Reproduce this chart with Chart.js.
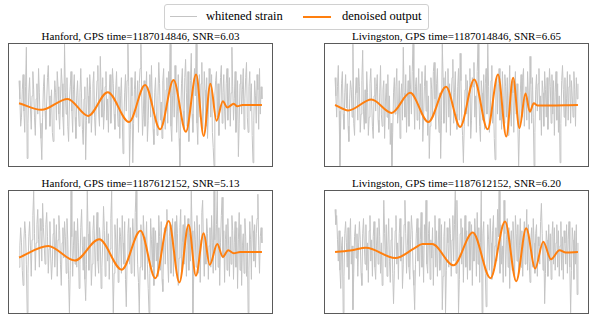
<!DOCTYPE html>
<html>
<head>
<meta charset="utf-8">
<script src="https://cdn.jsdelivr.net/npm/chart.js@4/dist/chart.umd.min.js"></script>
<style>
  html, body { margin: 0; padding: 0; background: #fff; }
  body { width: 594px; height: 321px; position: relative; overflow: hidden; font-family: "Liberation Serif", "DejaVu Serif", serif; }
  canvas { position: absolute; }
  .ttl { position: absolute; font-size: 11px; line-height: 12px; white-space: nowrap; text-align: center; color: #000; }
  #legend { position: absolute; left: 164px; top: 4px; width: 263px; height: 24px; border: 1px solid #d0d0d0; border-radius: 3px; background: #fff; font-size: 12.5px; }
  .lg { position: absolute; top: 4px; line-height: 15px; white-space: nowrap; }
  .sw { position: absolute; top: 11px; }
</style>
</head>
<body>
<div id="legend">
  <div class="sw" style="left:5px;width:27px;height:1px;background:#c4c4c4;"></div>
  <div class="lg" style="left:41px;">whitened strain</div>
  <div class="sw" style="left:138px;width:28px;height:2px;background:#ff7f0e;"></div>
  <div class="lg" style="left:177px;">denoised output</div>
</div>
<script>
// ---- data ----
const panelTitles = [
  "Hanford, GPS time=1187014846, SNR=6.03",
  "Livingston, GPS time=1187014846, SNR=6.65",
  "Hanford, GPS time=1187612152, SNR=5.13",
  "Livingston, GPS time=1187612152, SNR=6.20"
];
const legendLabels = ["whitened strain", "denoised output"];

// whitened strain (noisy), evenly spaced over the window, in % of half range
const tlStrain = [40,10,-35,-20,25,50,-10,-45,30,95, -88,-30,20,45,-5,-40,15,55,25,-20,
  -50,10,35,-15,60,20,-30,-55,-90,-20, 30,50,-10,-40,5,45,65,15,-35,-10,
  25,-45,-60,0,40,20,-25,55,30,-15, -40,10,60,35,-20,-50,100,20,-15,45,
  -35,-60,5,30,55,-10,-45,25,50,-20, -55,15,40,-5,-35,20,60,10,-40,-65,
  10,30,-90,-25,45,15,-30,50,25,-45, -10,35,55,-20,-50,5,40,65,-15,-35,
  80,25,-20,45,-40,-10,30,55,-25,10, -45,20,50,-30,0,60,35,-15,-40,25,
  55,-5,-35,30,-55,15,45,-20,-80,-30, 20,50,-10,40,100,30,-100,-40,45,15,
  -95,-30,25,55,-20,10,40,-45,35,60, 100,20,-50,-15,40,-35,15,55,-60,-25,
  30,50,-20,65,10,-40,-65,20,45,-10, -50,15,70,35,-25,5,-55,40,60,-15,
  -40,25,45,-30,55,20,100,-35,-60,15, 40,-20,65,30,-45,-10,50,-55,-100,-20,
  35,60,-10,-40,45,75,20,-35,55,-60, -25,40,85,-15,-45,30,60,15,100,-30,
  -65,20,50,-20,35,70,-40,-10,55,25, -35,45,-55,-15,60,30,-20,50,-45,-70,
  -100,15,40,55,-20,35,-50,10,45,65, -30,20,50,-10,-40,35,60,-25,15,45,
  -35,20,95,30,-25,10,55,-45,-20,40, -85,-30,35,50,-15,25,60,-40,10,45,
  70,-20,-45,30,55,-10,35,-50,-95,-25, 40,15,-30,50,25,-40,60,-15,30,10];
const trStrain = [45,15,-20,30,65,-10,-100,-25,35,55, -15,-40,20,50,-5,35,-35,-60,10,40,
  25,-20,100,-30,-50,15,45,20,-25,60, 30,-45,-15,40,90,-10,-40,25,-30,55,
  20,-50,-20,35,60,10,-35,-55,15,45, -10,30,50,-25,-45,20,65,-15,-35,25,
  40,-55,5,35,-20,50,-40,15,-65,-30, -100,-45,20,45,-15,30,60,-30,-10,40,
  -55,15,35,-25,95,20,-20,50,-45,10, 40,-35,65,25,-15,55,100,15,-40,30,
  45,-25,20,60,-40,35,-15,55,-60,-20, 30,65,-10,40,-50,15,-88,-35,45,25,
  -20,55,70,10,-40,35,60,-15,-45,20, -88,-25,100,45,-30,15,55,-45,25,60,
  -20,35,-50,10,45,75,-30,20,55,-15, -40,30,60,-25,85,40,-20,-50,-95,-35,
  25,50,-15,40,-35,20,60,-55,-25,45, 30,70,-20,15,-45,55,100,20,-35,-60,
  40,20,-25,50,-40,35,60,-15,100,30, -45,-20,40,65,-30,10,-55,-90,25,45,
  -15,35,60,-25,20,-40,55,15,-30,50, 30,-20,45,-50,15,65,-10,-35,40,20,
  -45,25,55,-15,35,-30,-100,-40,20,50, -20,45,60,-35,10,30,-25,55,15,-40,
  80,35,-30,45,-20,-100,-45,25,50,-10, 35,60,-25,15,-50,40,20,-35,55,25,
  -20,45,-40,10,60,30,-30,50,-15,40, -50,20,55,-25,35,-45,15,-95,-30,40,
  65,25,-20,45,-35,10,55,-25,30,50, -30,40,15,-20,55,25,-35,45,10,35];
const blStrain = [-25,10,40,15,-30,-55,20,50,30,-20, -100,-35,25,50,10,-40,20,60,100,30,
  -30,15,45,70,20,-25,55,35,-15,80, 40,10,-20,45,65,25,-35,5,50,-10,
  -45,-15,30,55,-25,10,45,-40,20,60, 35,-20,-55,15,40,-10,50,25,-35,55,
  20,-45,-100,-30,100,25,-40,10,50,-20, 35,-25,55,15,-60,-20,40,70,10,-30,
  25,-45,-80,-20,100,30,-30,50,15,-55, -20,35,60,10,-40,25,65,-15,-35,40,
  20,-60,-25,15,75,35,-40,10,50,-15, 30,-45,5,55,100,-20,-100,-35,45,20,
  -25,55,-50,-10,40,25,-35,60,15,-20, 50,-45,-90,-15,30,55,-20,40,-35,10,
  55,20,-40,65,100,30,-20,-50,-100,-25, 45,10,-30,60,25,-45,15,50,-20,-60,
  -100,-35,55,20,-25,40,-55,10,35,-15, 15,-40,60,25,-30,50,-45,-65,20,40,
  -20,35,70,-15,-50,25,45,-35,15,55, -40,20,50,-25,60,30,-55,-10,40,70,
  -35,15,45,-20,60,25,-40,10,55,-30, 30,-15,100,35,-100,-40,50,20,-25,60,
  15,-35,45,-50,20,65,85,10,-40,25, -20,55,30,-45,10,40,-25,60,15,-35,
  100,20,-30,45,100,-25,40,-55,15,60, 90,-10,35,-50,20,45,-30,55,10,-40,
  25,-20,60,35,-45,15,50,-25,40,-60, 20,65,-30,45,-55,10,30,-35,55,25,
  -40,15,-100,-30,50,20,-45,60,35,-15, 45,-25,30,55,95,10,-35,25,40,15];
const brStrain = [70,45,60,20,-15,35,-30,-60,10,25, -100,-40,30,50,15,-25,40,-45,20,55,
  -20,10,-95,-35,25,45,-10,30,-40,15, 50,20,-35,-55,30,55,10,-20,45,-30,
  15,-50,35,60,-15,20,-40,25,50,-25, -45,10,40,-20,55,25,-35,15,-55,-10,
  85,30,-25,45,-40,10,55,-15,-50,20, 40,-35,-85,-30,35,60,-20,15,-45,30,
  55,-15,25,-60,-20,45,85,30,-35,10, 50,-25,-45,20,60,35,-30,-55,-95,-20,
  30,55,-15,40,-40,20,65,-25,10,-50, 45,15,85,-20,-35,30,50,-45,20,-10,
  40,-55,15,60,-25,35,-40,10,55,-30, -10,45,-95,-40,25,50,-100,-30,40,15,
  -25,55,30,-40,20,60,-15,45,100,-35, 85,25,-100,-45,30,55,-20,40,-50,15,
  60,-25,35,-45,20,50,-30,10,45,-55, 30,-15,55,25,-40,65,-20,40,-50,15,
  100,-100,30,50,-20,-35,-90,-25,45,20, -30,55,15,-45,35,60,-25,10,40,-15,
  70,25,100,-35,45,-20,10,-50,85,30, -40,20,55,-25,40,-60,15,35,-30,50,
  20,-45,60,30,-15,45,-35,10,55,-25, 35,-40,15,50,-20,30,70,-30,45,-15,
  -50,20,40,-25,55,15,-35,30,45,-40, 25,10,-20,50,80,30,-30,15,-85,-35,
  35,20,-40,45,-15,30,-45,25,50,-20, 40,-30,15,45,-25,35,-40,10,50,-30,
  25,-45,35,15,-20,45,-35,20,50,-25, -100,-30,40,20,-45,35,-20,45,-70,15];

// denoised output: times (fraction of window) and values at turning points
const tlDenoisedT = [0,0.092,0.200,0.285,0.365,0.453,0.519,0.581,0.636,0.687,0.729,0.760,0.788,0.813,0.839,0.857,0.884,0.898,0.92,1.0];
const tlDenoisedV = [3,-8,10,-18,21,-28,33,-40,41,-44,50,-51,35,-26,6,-4,2,-2,0,0];
const trDenoisedT = [0,0.054,0.150,0.233,0.309,0.384,0.457,0.515,0.573,0.628,0.671,0.705,0.733,0.759,0.784,0.802,0.818,0.835,1.0];
const trDenoisedV = [0,-9,9,-13,20,-28,30,-36,42,-40,50,-52,45,-38,19,-11,3,-1,0];
const blDenoisedT = [0,0.12,0.23,0.33,0.423,0.50,0.561,0.616,0.660,0.698,0.728,0.760,0.785,0.816,0.839,0.861,0.884,0.91,1.0];
const blDenoisedV = [-9,10,-14,21,-29,35,-43,51,-50,45,-39,31,-21,13,-8,3,-2,0,0];
const brDenoisedT = [0,0.071,0.127,0.248,0.326,0.36,0.40,0.488,0.567,0.640,0.700,0.746,0.787,0.824,0.857,0.889,0.924,0.950,1.0];
const brDenoisedV = [0,3,7,-10,6,13,13,-22,32,-43,50,-48,39,-27,17,-12,3,-1,0];

// ---- drawing ----
const panels = [
  { strain: tlStrain, dt: tlDenoisedT, dv: tlDenoisedV, left: 8,   top: 43,  ttlTop: 30 },
  { strain: trStrain, dt: trDenoisedT, dv: trDenoisedV, left: 324, top: 43,  ttlTop: 30 },
  { strain: blStrain, dt: blDenoisedT, dv: blDenoisedV, left: 8,   top: 190, ttlTop: 177 },
  { strain: brStrain, dt: brDenoisedT, dv: brDenoisedV, left: 324, top: 190, ttlTop: 177 }
];
const W = 265, H = 124;

const boxPlugin = {
  id: 'box',
  afterDraw(chart) {
    const a = chart.chartArea, ctx = chart.ctx;
    ctx.save();
    ctx.strokeStyle = '#5a5a5a';
    ctx.lineWidth = 1;
    ctx.strokeRect(a.left + 0.5, a.top + 0.5, a.right - a.left - 1, a.bottom - a.top - 1);
    ctx.restore();
  }
};

panels.forEach((p, k) => {
  const c = document.createElement('canvas');
  c.width = W; c.height = H;
  c.style.left = p.left + 'px'; c.style.top = p.top + 'px';
  c.style.width = W + 'px'; c.style.height = H + 'px';
  document.body.appendChild(c);

  const t = document.createElement('div');
  t.className = 'ttl';
  t.textContent = panelTitles[k];
  t.style.left = p.left + 'px'; t.style.width = W + 'px'; t.style.top = p.ttlTop + 'px';
  document.body.appendChild(t);

  const n = p.strain.length;
  const strainPts = p.strain.map((v, i) => ({ x: i / (n - 1), y: v }));
  const denPts = p.dt.map((x, i) => ({ x: x, y: p.dv[i] }));

  new Chart(c, {
    type: 'line',
    data: {
      datasets: [
        { label: legendLabels[0], data: strainPts, borderColor: '#c4c4c4', borderWidth: 1, pointRadius: 0, tension: 0, order: 2 },
        { label: legendLabels[1], data: denPts, borderColor: '#ff7f0e', borderWidth: 2, pointRadius: 0, cubicInterpolationMode: 'monotone', order: 1 }
      ]
    },
    options: {
      responsive: false, animation: false, devicePixelRatio: 1, events: [],
      layout: { padding: 0 },
      plugins: { legend: { display: false }, tooltip: { enabled: false }, title: { display: false } },
      scales: {
        x: { type: 'linear', min: -0.0455, max: 1.0455, display: false },
        y: { type: 'linear', min: -102, max: 102, display: false }
      }
    },
    plugins: [boxPlugin]
  });
});
</script>
</body>
</html>
